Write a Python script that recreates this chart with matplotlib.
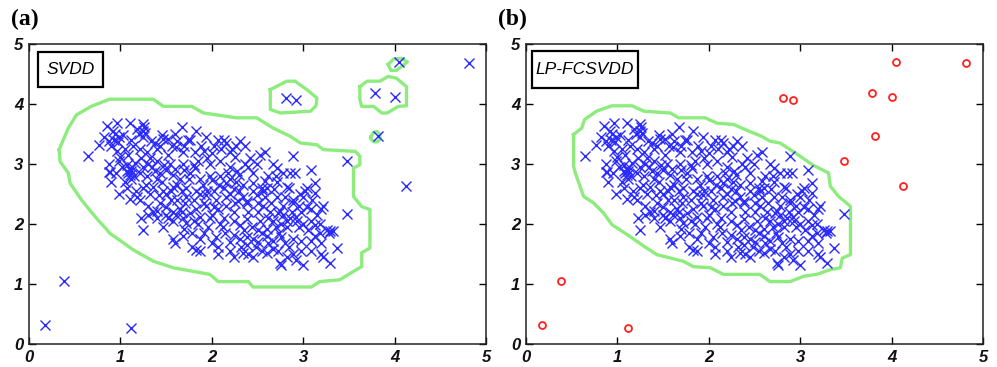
import numpy as np
import matplotlib
matplotlib.use("Agg")
import matplotlib.pyplot as plt
from matplotlib.patches import Rectangle

# ---------------- data ----------------
target_points = [
    (0.85, 3.63), (0.96, 3.69), (1.10, 3.69), (1.25, 3.67), (1.26, 3.62), (1.67, 3.61), (1.83, 3.55),
    (0.94, 3.50), (0.99, 3.45), (1.12, 3.40), (1.25, 3.55), (1.25, 3.45), (1.45, 3.48), (1.47, 3.42),
    (1.60, 3.50), (1.74, 3.40), (1.76, 3.40), (1.94, 3.45), (2.07, 3.40), (2.13, 3.40), (2.31, 3.38),
    (2.36, 3.30), (0.77, 3.32), (0.88, 3.38), (0.90, 3.30), (0.96, 3.22), (1.05, 3.25), (1.14, 3.30),
    (1.21, 3.25), (1.29, 3.20), (1.40, 3.25), (1.43, 3.30), (1.56, 3.30), (1.61, 3.28), (1.69, 3.20),
    (1.82, 3.20), (1.91, 3.22), (2.02, 3.30), (2.16, 3.35), (2.20, 3.20), (2.22, 3.25), (2.27, 3.30),
    (2.53, 3.15), (2.58, 3.20), (2.89, 3.13), (0.65, 3.13), (0.88, 3.00), (0.98, 3.05), (1.07, 2.98),
    (1.16, 3.02), (1.32, 3.10), (1.40, 3.05), (1.54, 3.00), (1.69, 3.00), (1.80, 2.98), (1.82, 2.93),
    (1.98, 3.00), (2.09, 3.05), (2.20, 2.95), (2.36, 3.00), (2.40, 2.95), (2.49, 3.00), (2.67, 3.00),
    (2.71, 2.93), (2.86, 2.85), (2.91, 2.85), (3.09, 2.90), (0.87, 2.87), (0.90, 2.70), (1.07, 2.88),
    (1.08, 2.85), (1.12, 2.75), (1.21, 2.85), (1.29, 2.80), (1.40, 2.75), (1.43, 2.85), (1.50, 2.90),
    (1.58, 2.82), (1.65, 2.75), (1.76, 2.85), (1.87, 2.75), (1.98, 2.80), (2.00, 2.73), (2.09, 2.80),
    (2.20, 2.75), (2.27, 2.70), (2.34, 2.65), (2.45, 2.68), (2.55, 2.60), (2.71, 2.70), (2.82, 2.62),
    (3.04, 2.60), (3.13, 2.68), (0.99, 2.50), (1.07, 2.60), (1.10, 2.42), (1.18, 2.45), (1.25, 2.60),
    (1.32, 2.50), (1.36, 2.62), (1.47, 2.55), (1.50, 2.50), (1.58, 2.62), (1.67, 2.55), (1.72, 2.45),
    (1.83, 2.55), (1.87, 2.50), (1.94, 2.48), (2.02, 2.55), (2.13, 2.60), (2.20, 2.50), (2.24, 2.58),
    (2.34, 2.45), (2.38, 2.38), (2.49, 2.48), (2.56, 2.55), (2.60, 2.60), (2.71, 2.45), (2.80, 2.45),
    (2.89, 2.40), (2.97, 2.50), (3.02, 2.55), (3.13, 2.52), (1.21, 2.40), (1.30, 2.30), (1.36, 2.20),
    (1.43, 2.35), (1.50, 2.28), (1.58, 2.20), (1.65, 2.25), (1.71, 2.35), (1.76, 2.18), (1.83, 2.25),
    (1.91, 2.35), (1.94, 2.30), (2.02, 2.28), (2.07, 2.25), (2.16, 2.30), (2.24, 2.20), (2.29, 2.38),
    (2.38, 2.35), (2.51, 2.20), (2.56, 2.30), (2.64, 2.20), (2.75, 2.22), (2.78, 2.15), (2.89, 2.35),
    (2.98, 2.20), (3.04, 2.28), (3.08, 2.25), (3.20, 2.25), (3.22, 2.30), (1.23, 2.10), (1.25, 1.90),
    (1.30, 2.15), (1.40, 2.10), (1.47, 1.95), (1.50, 2.15), (1.58, 2.05), (1.61, 2.15), (1.67, 2.20),
    (1.72, 2.02), (1.80, 2.05), (1.87, 2.12), (1.96, 1.95), (1.98, 2.10), (2.09, 2.00), (2.13, 2.10),
    (2.24, 2.05), (2.31, 1.98), (2.38, 2.08), (2.44, 1.95), (2.53, 2.05), (2.60, 1.92), (2.67, 2.05),
    (2.76, 2.00), (2.82, 1.95), (2.86, 2.10), (2.93, 2.05), (3.00, 2.00), (3.09, 2.05), (3.13, 1.98),
    (3.18, 2.00), (3.26, 1.90), (3.29, 1.88), (1.58, 1.75), (1.60, 1.68), (1.69, 1.80), (1.78, 1.62),
    (1.87, 1.75), (2.00, 1.68), (2.07, 1.62), (2.14, 1.85), (2.24, 1.82), (2.31, 1.75), (2.38, 1.65),
    (2.45, 1.75), (2.51, 1.70), (2.60, 1.80), (2.67, 1.72), (2.73, 1.85), (2.76, 1.78), (2.80, 1.68),
    (2.89, 1.75), (2.98, 1.72), (3.08, 1.72), (3.13, 1.80), (3.20, 1.68), (3.28, 1.85), (3.33, 1.88),
    (1.83, 1.57), (1.87, 1.55), (2.07, 1.50), (2.24, 1.45), (2.34, 1.52), (2.40, 1.50), (2.45, 1.45),
    (2.60, 1.52), (2.67, 1.58), (2.75, 1.35), (2.76, 1.32), (2.82, 1.45), (2.89, 1.50), (2.98, 1.55),
    (3.00, 1.32), (3.20, 1.50), (3.22, 1.45), (3.37, 1.60), (3.29, 1.35), (3.48, 2.17),
    (0.93, 3.40), (0.97, 3.36), (1.00, 3.12), (1.10, 2.92), (1.12, 2.88), (0.89, 2.86), (1.15, 2.80),
    (1.35, 2.95), (1.45, 2.70), (1.55, 2.40), (1.62, 2.65), (1.70, 2.90), (1.90, 2.65), (2.05, 2.40),
    (2.15, 2.68), (2.30, 2.55), (2.40, 2.20), (2.50, 2.35), (2.65, 2.35), (2.70, 1.95), (2.55, 1.85),
    (2.35, 1.90), (1.75, 2.75), (1.52, 3.15), (1.85, 3.05), (2.28, 2.88), (2.95, 2.30), (3.10, 2.40),
    (1.20, 3.50), (1.33, 3.38), (1.62, 3.38), (2.00, 3.18), (2.42, 3.10), (2.62, 2.80), (2.85, 2.60),
    (0.92, 3.55), (1.03, 3.48), (1.18, 3.58), (1.27, 3.52), (1.38, 3.35), (1.52, 3.42), (1.70, 3.30),
    (1.88, 3.30), (2.10, 3.25), (2.25, 3.12), (1.02, 2.95), (1.13, 2.95), (1.10, 2.82), (1.25, 2.95),
    (1.38, 2.88), (1.48, 2.98), (1.60, 2.92), (1.72, 2.60), (1.80, 2.40), (1.95, 2.55), (2.08, 2.65),
    (2.18, 2.85), (2.30, 2.82), (2.45, 2.85), (2.58, 2.72), (2.68, 2.58), (2.78, 2.30), (2.88, 2.20),
    (2.95, 1.95), (3.05, 1.90), (3.15, 2.15), (3.18, 1.85), (1.28, 2.65), (1.42, 2.48), (1.55, 2.55),
    (1.62, 2.40), (1.68, 2.10), (1.85, 2.00), (2.00, 2.15), (2.12, 1.95), (2.20, 1.70), (2.32, 1.62),
    (2.48, 1.62), (2.55, 1.55), (2.62, 1.68), (2.72, 1.55), (2.85, 1.62), (2.92, 1.40), (3.08, 1.55),
    (1.40, 2.22), (1.52, 2.10), (1.70, 1.92), (1.78, 1.85), (1.92, 1.85), (2.05, 1.78), (2.20, 1.55),
    (2.38, 1.78), (2.50, 1.90), (2.62, 2.10), (2.72, 2.18), (2.82, 2.05), (2.92, 2.12), (3.00, 2.45),
    (1.17, 2.55), (1.05, 2.70), (0.95, 2.85), (0.82, 3.45), (1.08, 3.15), (1.22, 3.10), (1.30, 3.00),
    (1.95, 3.10), (2.15, 2.45), (2.25, 2.35), (2.45, 2.55), (2.58, 2.45), (2.70, 2.80), (2.78, 2.85),
]
outlier_x = [0.17, 0.38, 1.12, 2.81, 2.92, 3.79, 4.00, 4.05, 4.81, 3.82, 3.48, 4.12]
outlier_y = [0.31, 1.05, 0.26, 4.10, 4.07, 4.18, 4.12, 4.70, 4.68, 3.47, 3.05, 2.63]

# SVDD boundary (panel a): main region + islands
svdd_main_x = [0.33, 0.43, 0.52, 0.68, 0.88, 1.36, 1.47, 1.78, 1.91, 2.27, 2.49, 2.67, 2.86, 2.97,
               3.15, 3.22, 3.57, 3.62, 3.62, 3.55, 3.55, 3.64, 3.73, 3.73, 3.64, 3.64, 3.55, 3.40,
               3.18, 3.09, 2.45, 2.40, 2.07, 1.98, 1.58, 1.36, 1.14, 0.88, 0.85, 0.77, 0.66, 0.57,
               0.45, 0.43, 0.34]
svdd_main_y = [3.24, 3.60, 3.82, 3.96, 4.08, 4.08, 3.96, 3.96, 3.85, 3.77, 3.77, 3.60, 3.46, 3.35,
               3.32, 3.24, 3.21, 3.13, 2.99, 2.93, 2.46, 2.29, 2.24, 1.60, 1.52, 1.29, 1.21, 1.07,
               1.04, 0.95, 0.95, 1.04, 1.04, 1.16, 1.27, 1.38, 1.57, 1.85, 1.91, 2.04, 2.24, 2.41,
               2.68, 2.85, 3.04]
svdd_isl1_x = [2.64, 2.82, 2.91, 3.04, 3.15, 3.14, 3.08, 2.75, 2.64, 2.64]
svdd_isl1_y = [4.24, 4.38, 4.38, 4.24, 4.10, 3.97, 3.88, 3.85, 3.91, 4.07]
svdd_isl2_x = [3.62, 3.70, 3.84, 3.93, 4.02, 4.13, 4.13, 4.04, 3.92, 3.86, 3.77, 3.64, 3.62]
svdd_isl2_y = [4.29, 4.38, 4.38, 4.46, 4.43, 4.29, 3.97, 3.96, 3.85, 3.85, 3.96, 3.96, 4.07]
svdd_isl3_x = [3.93, 3.99, 4.08, 4.14, 4.08, 4.02, 3.96]
svdd_isl3_y = [4.66, 4.75, 4.76, 4.70, 4.63, 4.56, 4.56]
svdd_isl4_x = [3.74, 3.77, 3.81, 3.84, 3.84, 3.81, 3.77, 3.74]
svdd_isl4_y = [3.45, 3.53, 3.54, 3.49, 3.41, 3.37, 3.37, 3.42]

# LP-FCSVDD boundary (panel b)
lp_x = [0.52, 0.61, 0.64, 0.77, 0.94, 1.16, 1.29, 1.58, 1.67, 1.96, 2.09, 2.27, 2.45, 2.58, 2.67,
        2.78, 2.97, 3.13, 3.31, 3.33, 3.42, 3.53, 3.55, 3.55, 3.46, 3.44, 3.33, 3.18, 3.04, 2.89,
        2.67, 2.56, 2.16, 2.02, 1.83, 1.72, 1.43, 1.29, 1.14, 0.94, 0.85, 0.74, 0.63, 0.54, 0.52]
lp_y = [3.49, 3.60, 3.74, 3.88, 3.97, 3.97, 3.88, 3.85, 3.77, 3.77, 3.68, 3.66, 3.54, 3.46, 3.38,
        3.35, 3.16, 2.99, 2.85, 2.63, 2.46, 2.32, 2.29, 1.49, 1.43, 1.27, 1.24, 1.16, 1.13, 1.04,
        1.04, 1.16, 1.16, 1.27, 1.29, 1.38, 1.49, 1.63, 1.79, 1.99, 2.18, 2.35, 2.46, 2.85, 2.96]

panel_letters = ["(a)", "(b)"]
method_names = ["SVDD", "LP-FCSVDD"]
ticks = [0, 1, 2, 3, 4, 5]

# ---------------- drawing ----------------
W, H = 997, 367
fig = plt.figure(figsize=(W / 100, H / 100), dpi=100)

blue = "#2a2aff"
green = "#8eec7e"
pts = np.array(target_points)

def px_axes(left, top, right, bottom):
    return fig.add_axes([left / W, 1 - bottom / H, (right - left) / W, (bottom - top) / H])

axA = px_axes(29, 44, 486, 344)
axB = px_axes(526, 44, 983, 344)

def closed(xs, ys):
    return list(xs) + [xs[0]], list(ys) + [ys[0]]

for ax in (axA, axB):
    ax.set_xlim(0, 5)
    ax.set_ylim(0, 5)
    ax.set_xticks(ticks)
    ax.set_yticks(ticks)
    ax.tick_params(direction="in", top=True, right=True, length=5, width=1, labelsize=12, pad=4)
    for lab in ax.get_xticklabels() + ax.get_yticklabels():
        lab.set_fontstyle("italic")
        lab.set_fontweight("bold")
        lab.set_fontfamily("Liberation Sans")
        lab.set_color("#111111")
    for s in ax.spines.values():
        s.set_linewidth(1.1)
        s.set_color("#222222")

# Panel a
for xs, ys in [(svdd_main_x, svdd_main_y), (svdd_isl1_x, svdd_isl1_y), (svdd_isl2_x, svdd_isl2_y),
               (svdd_isl3_x, svdd_isl3_y), (svdd_isl4_x, svdd_isl4_y)]:
    cx, cy = closed(xs, ys)
    axA.plot(cx, cy, color=green, lw=2.4, zorder=2)
axA.plot(pts[:, 0], pts[:, 1], "x", color=blue, ms=6.5, mew=1.0, zorder=3)
axA.plot(outlier_x, outlier_y, "x", color=blue, ms=6.5, mew=1.0, zorder=3)

# Panel b
cx, cy = closed(lp_x, lp_y)
axB.plot(cx, cy, color=green, lw=2.4, zorder=2)
axB.plot(pts[:, 0], pts[:, 1], "x", color=blue, ms=6.5, mew=1.0, zorder=3)
axB.plot(outlier_x, outlier_y, "o", mfc="none", mec="#ff2020", ms=5, mew=1.3, zorder=3)

# labels and boxes
fig.text(11 / W, 1 - 19 / H, panel_letters[0], fontsize=17, fontweight="bold",
         family="Liberation Serif", va="center", ha="left")
fig.text(498 / W, 1 - 19 / H, panel_letters[1], fontsize=17, fontweight="bold",
         family="Liberation Serif", va="center", ha="left")

boxes = [(axA, 0.020, 0.857, 0.142, 0.116), (axB, 0.013, 0.853, 0.232, 0.124)]
for (ax, bx, by, bw, bh), name in zip(boxes, method_names):
    ax.add_patch(Rectangle((bx, by), bw, bh, transform=ax.transAxes, fill=False,
                           lw=1.6, ec="black", zorder=5))
    ax.text(bx + bw / 2, by + bh / 2, name, transform=ax.transAxes, ha="center", va="center",
            fontsize=12.5, fontstyle="italic", family="Liberation Sans", zorder=6)

fig.savefig("out.png", dpi=100)
